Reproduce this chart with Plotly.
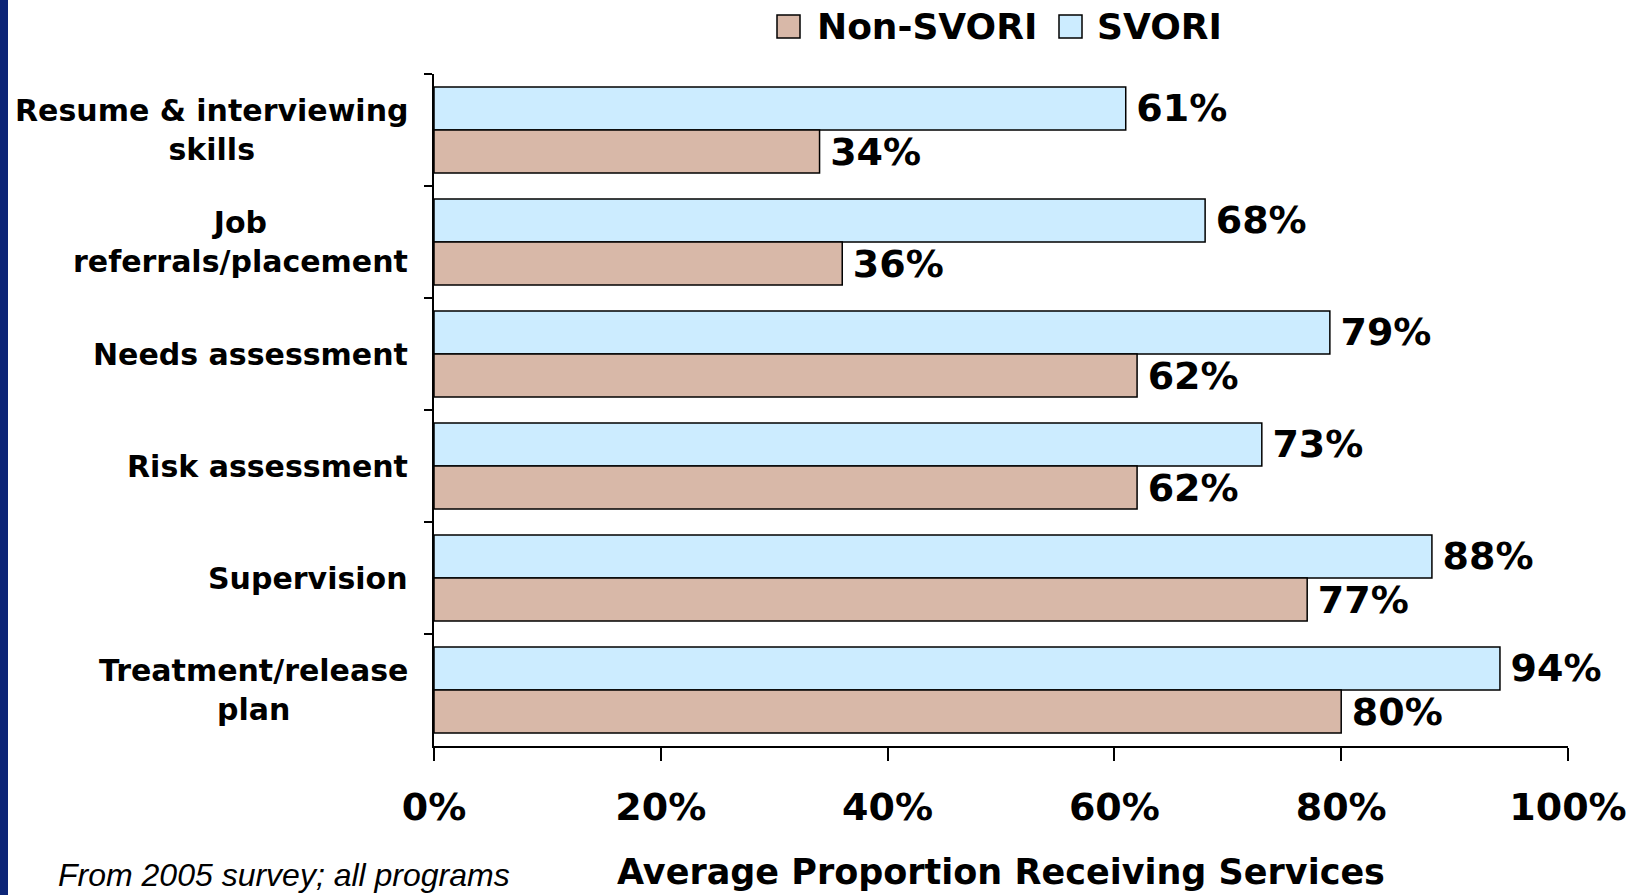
import plotly.graph_objects as go

categories = ["Resume & interviewing<br>skills", "Job<br>referrals/placement", "Needs assessment",
              "Risk assessment", "Supervision", "Treatment/release<br>plan"]
svori = [61, 68, 79, 73, 88, 94]
non_svori = [34, 36, 62, 62, 77, 80]
xticks = [0, 20, 40, 60, 80, 100]
xtick_labels = ["0%", "20%", "40%", "60%", "80%", "100%"]
series_names = ["Non-SVORI", "SVORI"]

FONT = "DejaVu Sans"
SVORI_COLOR = "#CCECFF"
NON_COLOR = "#D8B8A8"

fig = go.Figure()
fig.add_trace(go.Bar(
    name="SVORI", y=categories, x=svori, orientation="h",
    marker=dict(color=SVORI_COLOR, line=dict(color="black", width=1.5)),
    text=["\u2009" + f"{v}%" for v in svori], textposition="outside",
    textfont=dict(family=FONT, size=38, color="black", weight="bold"),
    constraintext="none", cliponaxis=False, hoverinfo="skip", showlegend=False,
))
fig.add_trace(go.Bar(
    name="Non-SVORI", y=categories, x=non_svori, orientation="h",
    marker=dict(color=NON_COLOR, line=dict(color="black", width=1.5)),
    text=["\u2009" + f"{v}%" for v in non_svori], textposition="outside",
    textfont=dict(family=FONT, size=38, color="black", weight="bold"),
    constraintext="none", cliponaxis=False, hoverinfo="skip", showlegend=False,
))

W, H = 1649, 895
L, R, T, B = 434, 81, 74, 149
pw = W - L - R
ph = H - T - B


def px_x(p):
    return (p - L) / pw


def px_y(p):
    return (ph - (p - T)) / ph


annotations = []
for c in categories:
    annotations.append(dict(
        x=px_x(410), xref="paper", y=c, yref="y", text=c, showarrow=False,
        xanchor="right", yanchor="middle", align="center",
        font=dict(family=FONT, size=30, color="black", weight="bold"),
    ))
annotations.append(dict(
    x=px_x(56), xref="paper", y=px_y(895), yref="paper",
    text="From 2005 survey; all programs", showarrow=False,
    xanchor="left", yanchor="bottom",
    font=dict(family="Liberation Sans", size=32, color="black", style="italic"),
))

# manual legend (boxes + labels)
legend_items = [(series_names[0], NON_COLOR, 777, 815), (series_names[1], SVORI_COLOR, 1059, 1095)]
shapes = [dict(type="rect", xref="paper", yref="paper",
               x0=-L / pw, x1=px_x(8), y0=-B / ph, y1=1 + T / ph,
               fillcolor="#0C2577", line=dict(width=0), layer="below")]
for name, col, bx, tx in legend_items:
    shapes.append(dict(type="rect", xref="paper", yref="paper",
                       x0=px_x(bx), x1=px_x(bx + 23), y0=px_y(38), y1=px_y(15),
                       fillcolor=col, line=dict(color="black", width=1.5)))
    annotations.append(dict(
        x=px_x(tx), xref="paper", y=px_y(26), yref="paper", text=name, showarrow=False,
        xanchor="left", yanchor="middle",
        font=dict(family=FONT, size=36, color="black", weight="bold"),
    ))

fig.update_layout(
    width=W, height=H,
    margin=dict(l=L, r=R, t=T, b=B, autoexpand=False),
    paper_bgcolor="white", plot_bgcolor="white",
    barmode="group", bargap=0.23, bargroupgap=0,
    showlegend=False,
    annotations=annotations,
    shapes=shapes,
    xaxis=dict(range=[0, 100], tickvals=xticks, ticktext=xtick_labels,
               showgrid=False, zeroline=False, showline=True, linecolor="black", linewidth=1.5,
               ticks="outside", ticklen=13, tickwidth=1.5, tickcolor="black",
               ticklabelstandoff=14,
               tickfont=dict(family=FONT, size=38, color="black", weight="bold"),
               title=dict(text="Average Proportion Receiving Services", standoff=31,
                          font=dict(family=FONT, size=35, color="black", weight="bold"))),
    yaxis=dict(autorange="reversed", showticklabels=False, tickson="boundaries",
               showgrid=False, zeroline=False, showline=True, linecolor="black", linewidth=1.5,
               ticks="outside", ticklen=8, tickwidth=1.5, tickcolor="black"),
)

fig.write_html("out.html", config={"displayModeBar": False},
               post_script="document.body.style.margin='0';")
